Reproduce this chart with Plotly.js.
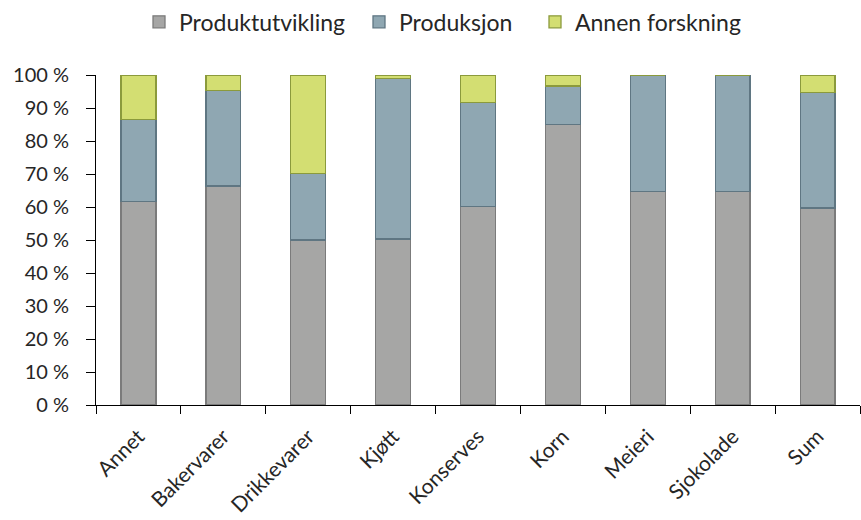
<!DOCTYPE html>
<html>
<head>
<meta charset="utf-8">
<script src="https://cdn.plot.ly/plotly-3.0.1.min.js"></script>
<style>html,body{margin:0;padding:0;background:#fff;}#chart{width:861px;height:520px;}</style>
</head>
<body>
<div id="chart"></div>
<script>
const categories = ["Annet","Bakervarer","Drikkevarer","Kjøtt","Konserves","Korn","Meieri","Sjokolade","Sum"];
const produktutvikling = [61.6, 66.4, 50.0, 50.3, 60.1, 85.1, 64.8, 64.8, 59.7];
const produksjon = [25.0, 28.8, 20.1, 48.6, 31.6, 11.6, 35.2, 35.2, 35.1];
const annenForskning = [13.4, 4.8, 29.9, 1.1, 8.3, 3.3, 0, 0, 5.2];
const seriesNames = ["Produktutvikling","Produksjon","Annen forskning"];
const yTickVals = [0,10,20,30,40,50,60,70,80,90,100];
const yTickText = ["0 %","10 %","20 %","30 %","40 %","50 %","60 %","70 %","80 %","90 %","100 %"];

const font = "Lato, sans-serif";
const txt = "#262626";
const mk = (name, y, fill, line, lg) => ({
  type: "bar", name: name, x: categories, y: y, legend: lg,
  marker: {color: fill, line: {color: line, width: 1.3}},
  width: 0.41, hoverinfo: "skip"
});
const data = [
  mk(seriesNames[0], produktutvikling, "#a6a6a5", "#7b7b7b", "legend"),
  mk(seriesNames[1], produksjon, "#8fa7b2", "#5f7682", "legend2"),
  mk(seriesNames[2], annenForskning, "#d3de72", "#8b9a3c", "legend3")
];
const lg = (px) => ({orientation: "h", x: (px - 96) / 764, xanchor: "left", y: 1.161, yanchor: "middle",
  font: {family: font, size: 23, color: txt}, itemwidth: 30, bgcolor: "rgba(0,0,0,0)"});
const layout = {
  width: 861, height: 520,
  barmode: "stack",
  margin: {l: 96, r: 1, t: 75, b: 115, autoexpand: false},
  paper_bgcolor: "#fff", plot_bgcolor: "#fff",
  font: {family: font, size: 20, color: txt},
  showlegend: true,
  legend: lg(139),
  legend2: lg(359),
  legend3: lg(535),
  xaxis: {
    type: "category", showline: true, linecolor: "#000", linewidth: 1,
    ticks: "outside", tickson: "boundaries", ticklen: 8, tickcolor: "#000",
    tickangle: -45, ticklabelstandoff: 10,
    tickfont: {family: font, size: 21, color: txt},
    showgrid: false, zeroline: false
  },
  yaxis: {
    range: [0, 100], tickmode: "array", tickvals: yTickVals, ticktext: yTickText,
    showline: true, linecolor: "#000", linewidth: 1,
    ticks: "outside", ticklen: 9, tickcolor: "#000", ticklabelstandoff: 13,
    tickfont: {family: font, size: 20, color: txt},
    showgrid: false, zeroline: false
  }
};
Plotly.newPlot("chart", data, layout, {displayModeBar: false, staticPlot: true});
</script>
</body>
</html>
